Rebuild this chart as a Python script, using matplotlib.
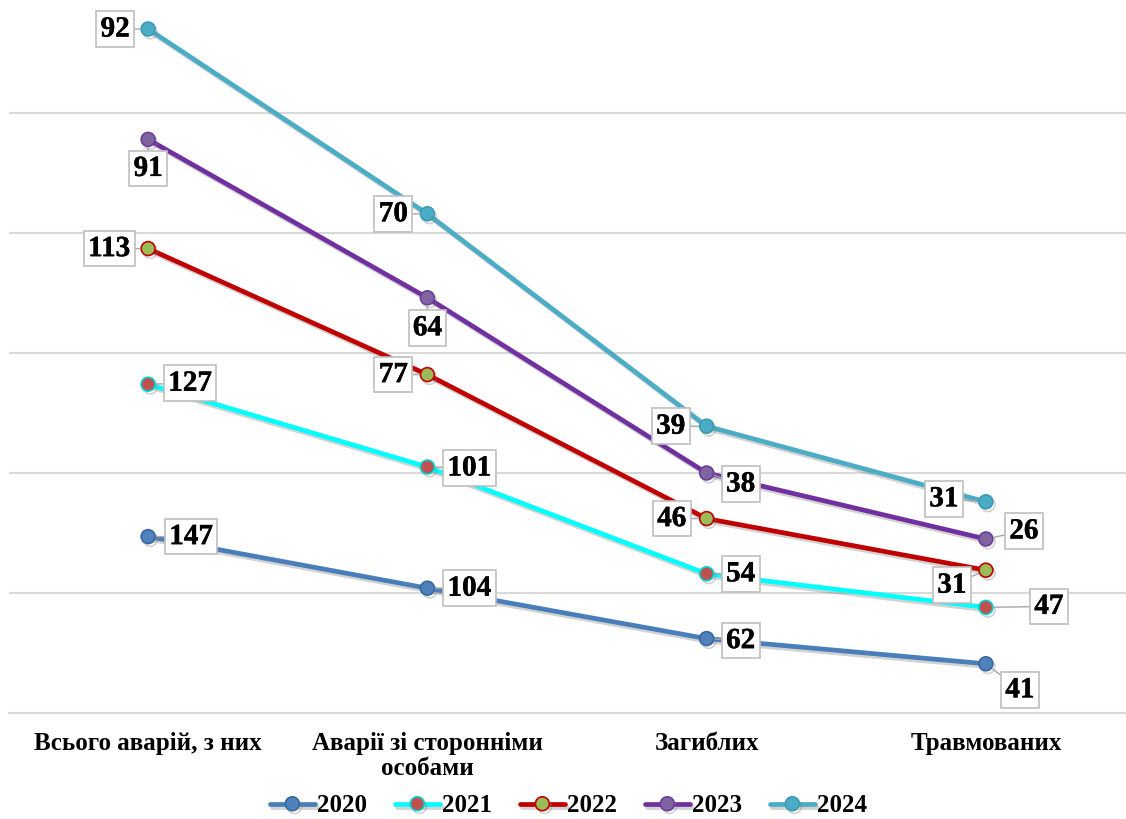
import numpy as np
import matplotlib
matplotlib.use("Agg")
import matplotlib.pyplot as plt
import matplotlib.patheffects as pe

# Categories and yearly values (series are stacked on top of each other)
categories = ["Всього аварій, з них", "Аварії зі сторонніми\nособами", "Загиблих", "Травмованих"]
years = ["2020", "2021", "2022", "2023", "2024"]
v2020 = [147, 104, 62, 41]
v2021 = [127, 101, 54, 47]
v2022 = [113, 77, 46, 31]
v2023 = [91, 64, 38, 26]
v2024 = [92, 70, 39, 31]
series = [v2020, v2021, v2022, v2023, v2024]

line_colors = ["#4a7ebb", "#00ffff", "#c00000", "#7030a0", "#4bacc6"]
marker_colors = ["#4f81bd", "#c0504d", "#9bbb59", "#8064a2", "#4bacc6"]
marker_edges = ["#3a67a0", "#00d0d0", "#c00000", "#6a3f9a", "#3b9ab4"]

# label offsets in pixels (dx, dy) relative to each point
offsets = [
    [(43, 0), (42, 0), (34, -2), (34, -26)],
    [(42, 1), (42, -1), (34, 0), (63, 1)],
    [(-39, 0), (-34, 0), (-35, 0), (-34, -15)],
    [(0, -29), (0, -30), (34, -11), (38, 8)],
    [(-33, 0), (-34, 0), (-36, 0), (-42, 3)],
]

serif = ["Liberation Serif", "DejaVu Serif"]

fig = plt.figure(figsize=(11.26, 8.19), dpi=100)
ax = fig.add_axes([8.5 / 1126, 1 - 713 / 819, 1117 / 1126, 720 / 819])

x = np.arange(len(categories))
stacked = np.cumsum(np.array(series, dtype=float), axis=0)

shadow = [pe.SimpleLineShadow(offset=(1.5, -2.0), shadow_color="#808080", alpha=0.35), pe.Normal()]
heavy = [pe.withStroke(linewidth=0.3, foreground="black")]

for i, yr in enumerate(years):
    ax.plot(x, stacked[i], color=line_colors[i], lw=3.4, marker="o", ms=10,
            mfc=marker_colors[i], mec=marker_edges[i], mew=1.2, label=yr,
            solid_capstyle="round", path_effects=shadow, zorder=3 + i * 0.1)
    for j in range(len(categories)):
        dx, dy = offsets[i][j]
        ax.annotate(str(series[i][j]), (x[j], stacked[i][j]), xytext=(dx, dy),
                    textcoords="offset pixels", ha="center", va="center",
                    fontsize=21, fontweight="bold", family=serif, color="black",
                    path_effects=heavy,
                    bbox=dict(boxstyle="square,pad=0.15", fc="white", ec="#bfbfbf", lw=1.2),
                    arrowprops=dict(arrowstyle="-", color="#a6a6a6", lw=1.0,
                                    shrinkA=0, shrinkB=6),
                    zorder=10)

ax.set_xlim(-0.5, len(categories) - 0.5)
ax.set_ylim(0, 600)
ax.set_yticks(np.arange(0, 601, 100))
ax.yaxis.grid(True, color="#d9d9d9", lw=1.5)
ax.set_axisbelow(True)
ax.tick_params(axis="y", left=False, labelleft=False)
ax.set_xticks(x)
ax.set_xticklabels(categories, fontsize=18, fontweight="bold", family=serif,
                   linespacing=1.1)
ax.tick_params(axis="x", length=0, pad=14)
for s in ["top", "right", "left"]:
    ax.spines[s].set_visible(False)
ax.spines["bottom"].set_color("#d9d9d9")
ax.spines["bottom"].set_linewidth(1.5)

leg = fig.legend(*ax.get_legend_handles_labels(), loc="center", ncol=5,
                 bbox_to_anchor=(0.505, 1 - 806 / 819), frameon=False,
                 prop={"family": serif, "weight": "bold", "size": 18},
                 handlelength=1.8, handletextpad=0.1, columnspacing=1.1)

fig.savefig("out.png", dpi=100)
